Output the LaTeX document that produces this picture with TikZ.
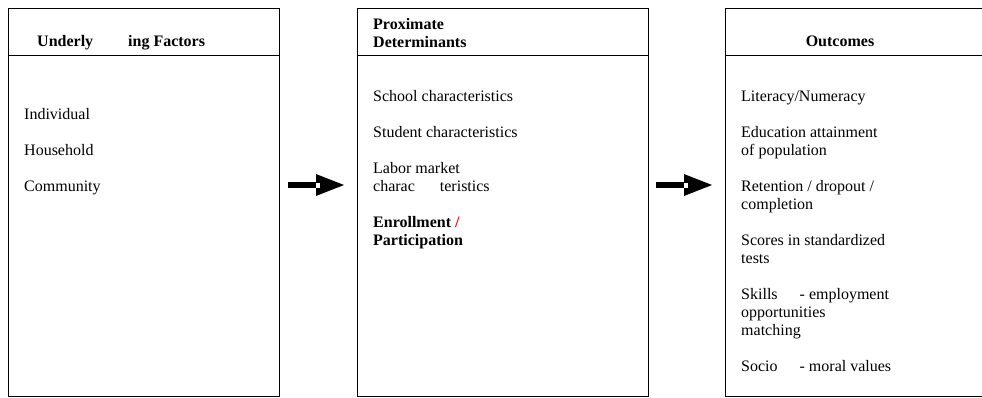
\documentclass[tikz,border=0pt]{standalone}
\usepackage{fontspec}
\setmainfont{Liberation Serif}
\usetikzlibrary{arrows.meta,calc}
\tikzset{
  panel/.style={draw, line width=0.9pt, anchor=north west, minimum height=388pt, inner sep=0pt},
  item/.style={anchor=base west, align=left, inner sep=0pt, font=\fontsize{16}{18}\selectfont},
  head/.style={item, font=\fontsize{16}{18}\selectfont\bfseries},
  bigarrow/.style={line width=6pt, -{Triangle[length=29pt,width=20pt]}},
  hole/.style={fill=white, inner sep=0pt, minimum width=4pt, minimum height=5pt}
}
\begin{document}
\begin{tikzpicture}[x=1pt,y=-1pt]
\path[use as bounding box, clip] (0,0) rectangle (982,397);
% the three panels
\node[panel, minimum width=271pt] (under) at (8,8) {};
\node[panel, minimum width=291pt] (prox) at (357,8) {};
\node[panel, minimum width=300pt] (outc) at (725,8) {};
\foreach \p in {under,prox,outc}
  \draw[line width=0.9pt] (\p.west |- 0,55) -- (\p.east |- 0,55);
% headers (multi-line nodes sit on their last line)
\node[head] (h1) at (37,46) {Underly\hspace{35pt}ing Factors};
\node[head] (h2) at (373,47) {Proximate\\Determinants};
\node[head, anchor=base] (h3) at (840,46) {Outcomes};
% underlying factors
\node[item] (ind) at (24,119) {Individual};
\node[item] (hou) at (24,155) {Household};
\node[item] (com) at (24,191) {Community};
% proximate determinants
\node[item] (sch) at (373,101) {School characteristics};
\node[item] (stu) at (373,137) {Student characteristics};
\node[item] (lab) at (373,191) {Labor market\\charac\hspace{25pt}teristics};
\node[head] (enr) at (373,245) {Enrollment \textcolor{red}{/}\\Participation};
% outcomes
\node[item] (lit) at (741,101) {Literacy/Numeracy};
\node[item] (edu) at (741,155) {Education attainment\\of population};
\node[item] (ret) at (741,209) {Retention / dropout /\\completion};
\node[item] (sco) at (741,263) {Scores in standardized\\tests};
\node[item] (ski) at (741,335) {Skills\hspace{22pt}- employment\\opportunities\\matching};
\node[item] (soc) at (741,371) {Socio\hspace{22pt}- moral values};
% arrows
\coordinate (mid) at (0,185);
\draw[bigarrow] ($(under.east |- mid)+(8,0)$) -- node[hole, pos=0.534] {} ($(prox.west |- mid)+(-12,0)$);
\draw[bigarrow] ($(prox.east |- mid)+(7,0)$) -- node[hole, pos=0.534] {} ($(outc.west |- mid)+(-12,0)$);
\end{tikzpicture}
\end{document}
